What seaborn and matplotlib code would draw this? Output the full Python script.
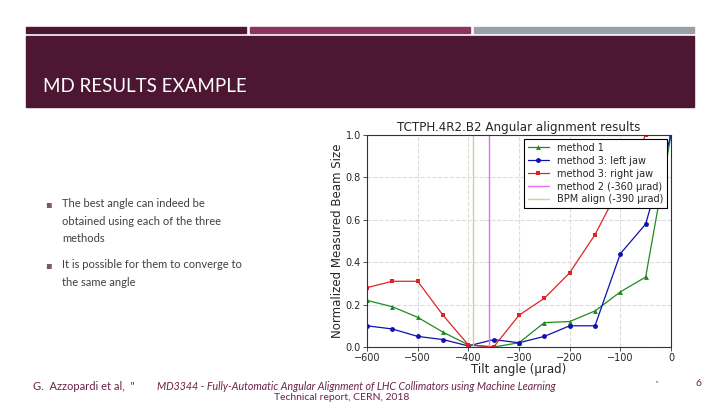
import numpy as np
import pandas as pd
import seaborn as sns
import matplotlib.pyplot as plt
from matplotlib.patches import Rectangle

# data
angles = [-600, -550, -500, -450, -400, -350, -300, -250, -200, -150, -100, -50, 0]
method1 = [0.22, 0.19, 0.14, 0.07, 0.01, 0.0, 0.02, 0.115, 0.12, 0.17, 0.26, 0.33, 1.0]
left_jaw = [0.10, 0.085, 0.05, 0.035, 0.005, 0.035, 0.02, 0.05, 0.10, 0.10, 0.44, 0.58, 1.0]
right_jaw = [0.28, 0.31, 0.31, 0.15, 0.01, 0.0, 0.15, 0.23, 0.35, 0.53, 0.76, 1.0, np.nan]
method2_angle = -360
bpm_angle = -390

bullets = [
    ["The best angle can indeed be", "obtained using each of the three", "methods"],
    ["It is possible for them to converge to", "the same angle"],
]

df = pd.DataFrame({"angle": angles, "m1": method1, "left": left_jaw, "right": right_jaw})

sns.set_style("whitegrid", {"grid.linestyle": "--", "grid.color": "#dcdcdc",
                            "axes.edgecolor": "#333333"})
plt.rcParams['font.family'] = ['DejaVu Sans']

fig = plt.figure(figsize=(7.2, 4.05), dpi=100)
fig.patch.set_facecolor("white")

# slide decorations
maroon = "#4d1733"
bar_y = 1 - 33 / 405
bar_h = 6 / 405
for x0, c in [(26, maroon), (250, "#8a3560"), (474, "#9aa0a6")]:
    fig.patches.append(Rectangle((x0 / 720, bar_y), 220 / 720, bar_h,
                                 transform=fig.transFigure, color=c, zorder=0))
fig.patches.append(Rectangle((26 / 720, 1 - 107 / 405), 668 / 720, 71 / 405,
                             transform=fig.transFigure, color=maroon, zorder=0))
fig.text(43 / 720, 1 - 87 / 405, "MD RESULTS EXAMPLE", color="white",
         fontsize=13.5, family="Lato", va="center", ha="left")

# bullet points
y = 204
for group in bullets:
    fig.text(45 / 720, 1 - y / 405, "\u25aa", color="#7a5868", fontsize=7,
             va="center", ha="left")
    for line in group:
        fig.text(62 / 720, 1 - y / 405, line, color="#404040", fontsize=8,
                 family="Lato", va="center", ha="left")
        y += 17.5
    y += 8.5

# footer
foot_c = "#6b2347"
fig.text(33 / 720, 1 - 386 / 405, 'G.  Azzopardi et al,  "', color=foot_c, fontsize=8,
         family="Lato", va="center", ha="left")
fig.text(157 / 720, 1 - 386 / 405,
         "MD3344 - Fully-Automatic Angular Alignment of LHC Collimators using Machine Learning",
         color=foot_c, fontsize=7.7, family="Lato", style="italic", va="center", ha="left")
fig.text(342 / 720, 1 - 398 / 405, "Technical report, CERN, 2018", color=foot_c,
         fontsize=7.5, family="Lato", va="center", ha="center")
fig.text(656 / 720, 1 - 384 / 405, '"', color=foot_c, fontsize=5, family="Lato",
         va="center", ha="left")
fig.text(699 / 720, 1 - 383 / 405, "6", color=foot_c, fontsize=7.5, family="Lato",
         va="center", ha="center")

# chart
ax = fig.add_axes([367 / 720, 1 - 347 / 405, 304 / 720, 212 / 405])
sns.lineplot(data=df, x="angle", y="m1", ax=ax, color="#1f8a1f", marker="^",
             markersize=3.5, markeredgewidth=0, linewidth=0.9, label="method 1")
sns.lineplot(data=df, x="angle", y="left", ax=ax, color="#1010b0", marker="o",
             markersize=3.5, markeredgewidth=0, linewidth=0.9, label="method 3: left jaw")
sns.lineplot(data=df, x="angle", y="right", ax=ax, color="#e02424", marker="s",
             markersize=3.5, markeredgewidth=0, linewidth=0.9, label="method 3: right jaw")
ax.axvline(method2_angle, color="#e070f0", linewidth=1.0, label="method 2 (-360 \u03bcrad)")
ax.axvline(bpm_angle, color="#d9c9a3", linewidth=1.0, label="BPM align (-390 \u03bcrad)")

ax.set_xlim(-600, 0)
ax.set_ylim(0, 1.0)
ax.set_xticks([-600, -500, -400, -300, -200, -100, 0])
ax.set_yticks([0.0, 0.2, 0.4, 0.6, 0.8, 1.0])
ax.tick_params(labelsize=7, length=3, width=0.6, color="#333333", pad=1.5,
               bottom=True, left=True)
for s in ax.spines.values():
    s.set_linewidth(0.8)
ax.set_title("TCTPH.4R2.B2 Angular alignment results", fontsize=8.6, pad=3)
ax.set_xlabel("Tilt angle (\u03bcrad)", fontsize=8.5, labelpad=0)
ax.set_ylabel("Normalized Measured Beam Size", fontsize=8.5, labelpad=1)
leg = ax.legend(loc="upper right", fontsize=7, fancybox=False, framealpha=1,
                edgecolor="black", borderpad=0.4, labelspacing=0.3, handlelength=2.2,
                borderaxespad=0.4)
leg.get_frame().set_linewidth(0.8)

fig.savefig("out.png", dpi=100)
